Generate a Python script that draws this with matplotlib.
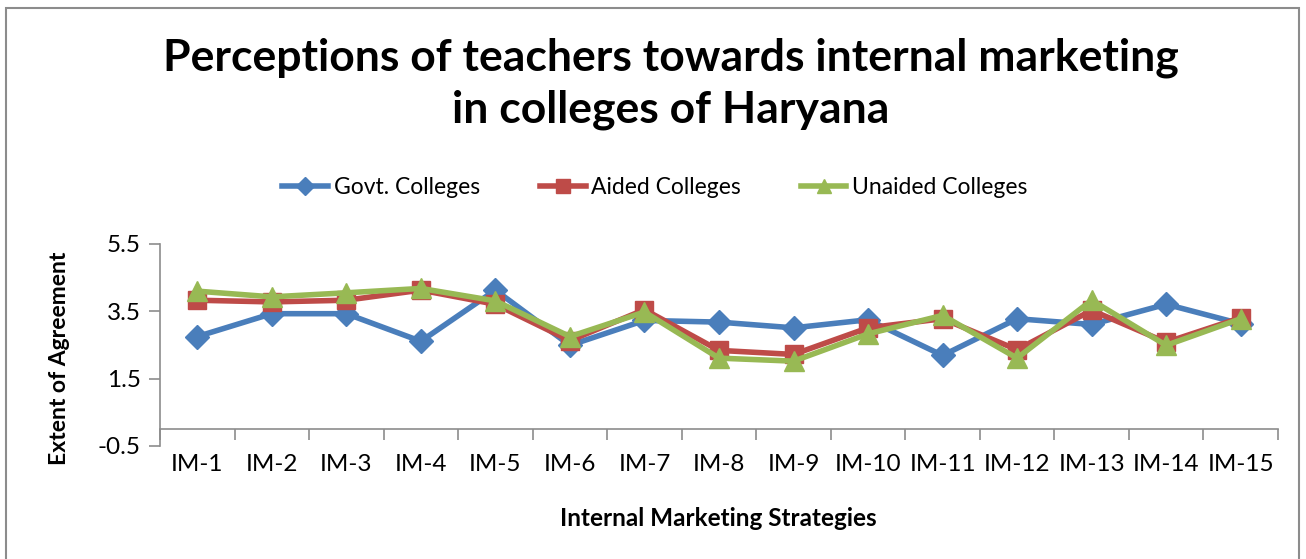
import matplotlib
matplotlib.use("Agg")
import matplotlib.pyplot as plt
from matplotlib.patches import Rectangle
import numpy as np

categories = ["IM-1", "IM-2", "IM-3", "IM-4", "IM-5", "IM-6", "IM-7", "IM-8",
              "IM-9", "IM-10", "IM-11", "IM-12", "IM-13", "IM-14", "IM-15"]
govt = [2.75, 3.43, 3.43, 2.61, 4.13, 2.49, 3.23, 3.18, 3.01, 3.25, 2.19, 3.28, 3.11, 3.71, 3.13]
aided = [3.83, 3.78, 3.83, 4.13, 3.71, 2.63, 3.55, 2.34, 2.22, 3.01, 3.28, 2.36, 3.53, 2.58, 3.31]
unaided = [4.10, 3.93, 4.05, 4.18, 3.81, 2.75, 3.48, 2.11, 2.02, 2.83, 3.38, 2.11, 3.83, 2.49, 3.28]
series_names = ["Govt. Colleges", "Aided Colleges", "Unaided Colleges"]
yticks = [-0.5, 1.5, 3.5, 5.5]

plt.rcParams['font.family'] = ['Lato', 'DejaVu Sans']

W, H = 1306, 559
fig = plt.figure(figsize=(W / 100, H / 100), dpi=100)

# chart frame
fig.patches.append(Rectangle((6 / W, -0.05), (1299 - 6) / W, 1 - 8 / H + 0.05,
                             transform=fig.transFigure, fill=False,
                             edgecolor='#8c8c8c', lw=1.5))

ax = fig.add_axes([160 / W, 1 - 446 / H, (1278 - 160) / W, (446 - 244) / H])
x = np.arange(len(categories))

ax.plot(x, govt, color='#4A7EBB', lw=4, marker='D', ms=12, label=series_names[0])
ax.plot(x, aided, color='#BE4B48', lw=4, marker='s', ms=13, label=series_names[1])
ax.plot(x, unaided, color='#98B954', lw=4, marker='^', ms=14, label=series_names[2])

ax.set_xlim(-0.5, len(categories) - 0.5)
ax.set_ylim(-0.5, 5.5)
ax.set_yticks(yticks)
ax.set_yticklabels([str(v) for v in yticks], fontsize=17.5)

for s in ['top', 'right']:
    ax.spines[s].set_visible(False)
ax.spines['bottom'].set_position(('data', 0))
for s in ['left', 'bottom']:
    ax.spines[s].set_color('#8c8c8c')
    ax.spines[s].set_linewidth(1.2)

ax.set_xticks(x)
ax.set_xticklabels(categories, fontsize=17.5)
ax.set_xticks(np.arange(len(categories) + 1) - 0.5, minor=True)
ax.tick_params(axis='x', which='major', length=0, pad=18)
ax.tick_params(axis='x', which='minor', length=8, color='#8c8c8c', width=1.2)
ax.tick_params(axis='y', length=8, color='#8c8c8c', width=1.2, pad=6)

fig.text(60 / W, 1 - 358 / H, "Extent of Agreement", rotation=90, fontsize=16.5,
         fontweight='bold', ha='center', va='center')
fig.text(718 / W, 1 - 518 / H, "Internal Marketing Strategies", fontsize=17.5,
         fontweight='bold', ha='center', va='center')

fig.text(671 / W, 1 - 58 / H, "Perceptions of teachers towards internal marketing",
         fontsize=32, fontweight='bold', ha='center', va='center')
fig.text(671 / W, 1 - 110 / H, "in colleges of Haryana",
         fontsize=32, fontweight='bold', ha='center', va='center')

fig.legend(loc='center', bbox_to_anchor=(655 / W, 1 - 188 / H), ncol=3, frameon=False,
           fontsize=16.5, handlelength=2.0, handletextpad=0.25, columnspacing=2.6,
           markerscale=0.75)

fig.savefig("out.png", dpi=100)
